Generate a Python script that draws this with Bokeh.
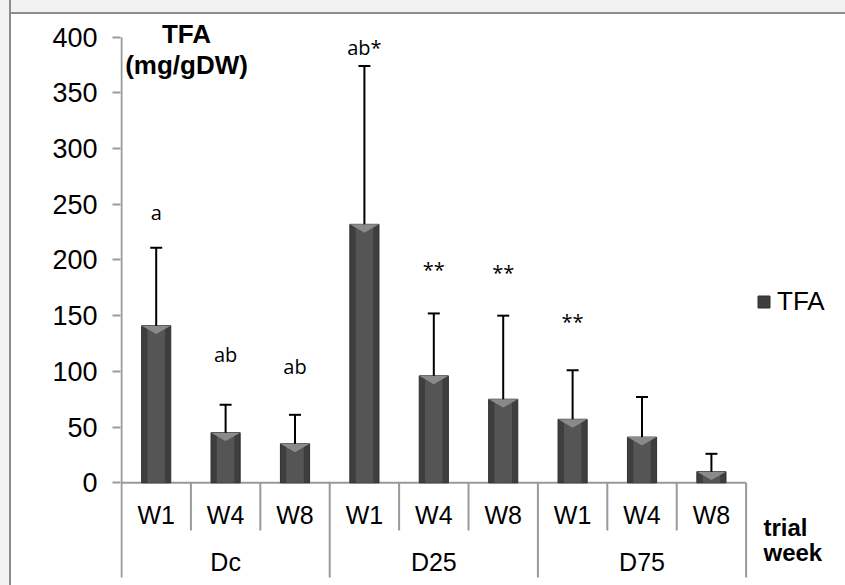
import numpy as np
from bokeh.plotting import figure
from bokeh.models import Range1d, FixedTicker, Legend, LegendItem, ColumnDataSource
from bokeh.core.properties import value
from bokeh.embed import file_html
from bokeh.resources import INLINE

# ---------------- data ----------------
group_names = ["Dc", "D25", "D75"]
week_names = ["W1", "W4", "W8"]
tfa_mean = [141, 45, 35, 232, 96, 75, 57, 41, 10]
tfa_err = [70, 25, 26, 142, 56, 75, 44, 36, 16]
sig_labels = ["a", "ab", "ab", "ab*", "**", "**", "**", "", ""]
sig_heights = [243, 115, 104, 391, 191, 189, 145, 0, 0]
y_ticks = [0, 50, 100, 150, 200, 250, 300, 350, 400]

n = len(tfa_mean)
xc = np.arange(n) + 0.5
mean = np.array(tfa_mean, dtype=float)
upper = mean + np.array(tfa_err, dtype=float)
week_labels = [w for g in group_names for w in week_names]
group_x = [i * len(week_names) + len(week_names) / 2 for i in range(len(group_names))]

Y_MIN, Y_MAX = -92.2, 432.9
SEP_BOTTOM = -85.0
AX = "#999999"
FONT = "Liberation Sans"

p = figure(width=845, height=585,
           x_range=Range1d(-0.0144, 10.432), y_range=Range1d(Y_MIN, Y_MAX),
           output_backend="svg", toolbar_location=None, x_axis_location=None,
           min_border_left=120, min_border_right=0, min_border_top=0, min_border_bottom=0)
p.grid.visible = False
p.outline_line_color = None
p.background_fill_alpha = 0
p.border_fill_alpha = 0

ya = p.yaxis[0]
ya.ticker = FixedTicker(ticks=y_ticks)
ya.axis_line_color = None
ya.major_tick_out = 8
ya.major_tick_in = 0
ya.minor_tick_line_color = None
ya.major_tick_line_color = AX
ya.major_tick_line_width = 2
ya.major_label_text_font = FONT
ya.major_label_text_font_size = "27px"
ya.major_label_text_color = "black"
ya.major_label_standoff = 15

# axis frame lines
p.segment(x0=[0], y0=[SEP_BOTTOM], x1=[0], y1=[max(y_ticks)], line_color=AX, line_width=2)
p.segment(x0=[0], y0=[0], x1=[n], y1=[0], line_color=AX, line_width=2)
wk_sep = [i for i in range(1, n) if i % len(week_names) != 0]
gr_sep = [i for i in range(len(week_names), n + 1, len(week_names))]
p.segment(x0=wk_sep, y0=[0] * len(wk_sep), x1=wk_sep, y1=[-42.8] * len(wk_sep),
          line_color=AX, line_width=2)
p.segment(x0=gr_sep, y0=[0] * len(gr_sep), x1=gr_sep, y1=[SEP_BOTTOM] * len(gr_sep),
          line_color=AX, line_width=2)

# bars
src = ColumnDataSource(dict(x=xc, top=mean, upper=upper))
bw = 0.42
bars = p.vbar(x="x", top="top", bottom=0, width=bw, source=src,
              fill_color="#3e3e3e", line_color="#303030", line_width=1)
p.vbar(x="x", top="top", bottom=0, width=bw * 0.6, source=src,
       fill_color="#555555", line_color=None)
bev_x = [[x - bw / 2, x + bw / 2, x] for x in xc]
bev_y = [[t, t, t - 7.5] for t in mean]
p.patches(xs=bev_x, ys=bev_y, fill_color="#8a8a8a", line_color=None)

# error bars (upper only)
p.segment(x0="x", y0="top", x1="x", y1="upper", source=src, line_color="black", line_width=2)
p.scatter(x="x", y="upper", source=src, marker="dash", size=12, line_color="black", line_width=2)

# significance letters
sx = [x for x, l in zip(xc, sig_labels) if l]
sy = [h for h, l in zip(sig_heights, sig_labels) if l]
st = [l for l in sig_labels if l]
p.text(x=sx, y=sy, text=st, text_font=value("Open Sans"), text_font_size="20px",
       text_align="center", text_baseline="alphabetic", text_color="black")

# category labels
p.text(x=xc, y=[-29.1] * n, text=week_labels, text_font=value(FONT), text_font_size="25px",
       text_align="center", text_baseline="alphabetic", text_color="black")
p.text(x=group_x, y=[-71.5] * len(group_x), text=group_names, text_font=value(FONT),
       text_font_size="25px", text_align="center", text_baseline="alphabetic", text_color="black")

# axis titles
p.text(x=[0.937, 0.937], y=[403, 375], text=["TFA", "(mg/gDW)"], text_font=value(FONT),
       text_font_size="26px", text_font_style="bold", text_align="center",
       text_baseline="middle", text_color="black")
p.text(x=[9.25, 9.25], y=[-40.0, -62.7], text=["trial", "week"], text_font=value(FONT),
       text_font_size="24px", text_font_style="bold", text_align="left",
       text_baseline="alphabetic", text_color="black")

legend = Legend(items=[LegendItem(label="TFA", renderers=[bars])], location=(636, 268),
                padding=0, margin=0, glyph_width=15, glyph_height=15, label_standoff=6,
                label_text_font=FONT, label_text_font_size="26px", label_text_color="black",
                background_fill_alpha=0, border_line_color=None)
p.add_layout(legend)

html = file_html(p, INLINE)
css = ("<style>html{background:"
       "linear-gradient(to right,#f2f2f2 9px,#8c8c8c 9px,#8c8c8c 11px,transparent 11px),"
       "linear-gradient(to bottom,#f2f2f2 12px,#8c8c8c 12px,#8c8c8c 14px,#ffffff 14px);"
       "background-attachment:fixed;background-repeat:no-repeat;}</style>")
html = html.replace("</head>", css + "</head>", 1)
open("out.html", "w").write(html)
